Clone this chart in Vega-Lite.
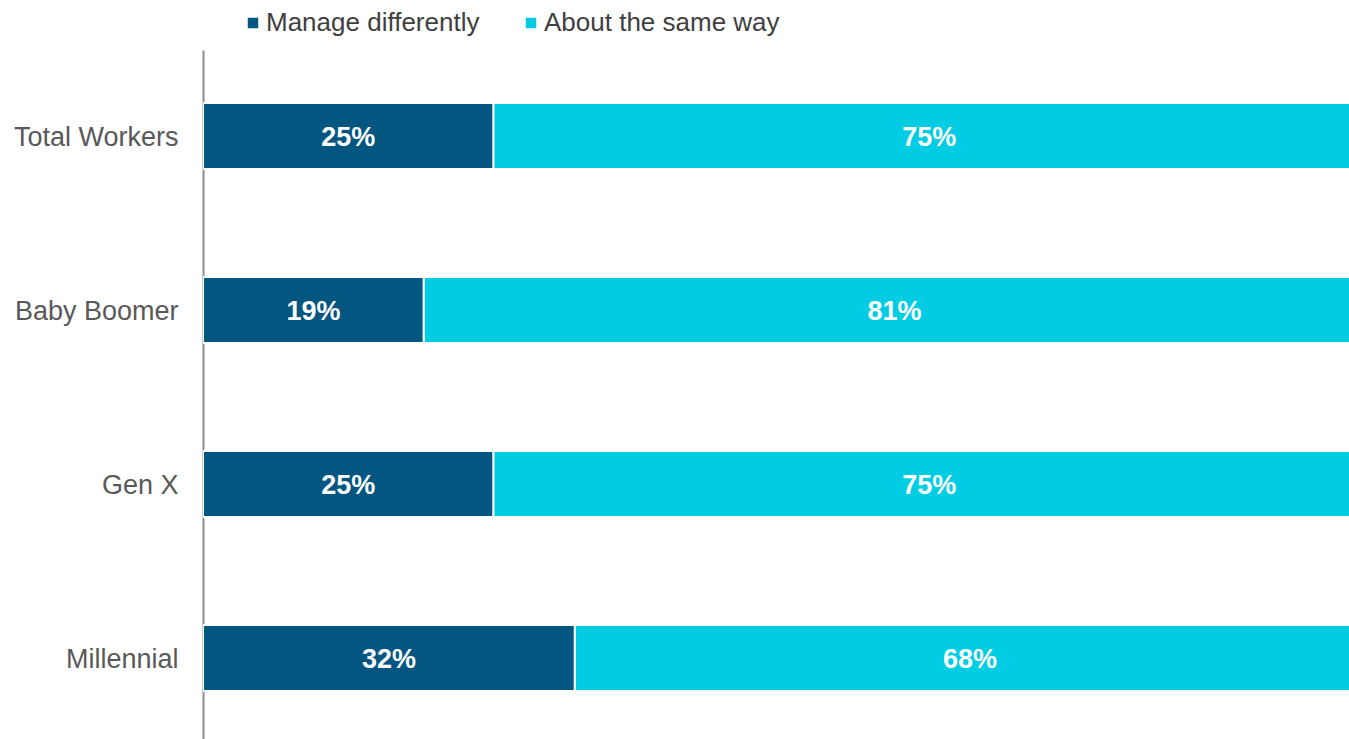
{
  "$schema": "https://vega.github.io/schema/vega-lite/v6.json",
  "autosize": "none",
  "width": 1146,
  "height": 689,
  "padding": {"left": 203, "top": 50, "right": 0, "bottom": 0},
  "background": "white",
  "config": {"view": {"stroke": null}, "font": "Liberation Sans"},
  "data": {
    "values": [
      {"group": "Total Workers", "category": "Manage differently", "value": 25, "label": "25%", "order": 1},
      {"group": "Total Workers", "category": "About the same way", "value": 75, "label": "75%", "order": 2},
      {"group": "Baby Boomer", "category": "Manage differently", "value": 19, "label": "19%", "order": 1},
      {"group": "Baby Boomer", "category": "About the same way", "value": 81, "label": "81%", "order": 2},
      {"group": "Gen X", "category": "Manage differently", "value": 25, "label": "25%", "order": 1},
      {"group": "Gen X", "category": "About the same way", "value": 75, "label": "75%", "order": 2},
      {"group": "Millennial", "category": "Manage differently", "value": 32, "label": "32%", "order": 1},
      {"group": "Millennial", "category": "About the same way", "value": 68, "label": "68%", "order": 2}
    ]
  },
  "transform": [
    {"stack": "value", "groupby": ["group"], "sort": [{"field": "order", "order": "ascending"}], "as": ["v0", "v1"]},
    {"calculate": "(datum.v0 + datum.v1) / 2", "as": "mid"}
  ],
  "encoding": {
    "y": {
      "field": "group",
      "type": "nominal",
      "sort": ["Total Workers", "Baby Boomer", "Gen X", "Millennial"],
      "scale": {"paddingInner": 0.6207, "paddingOuter": 0.29, "align": 0.525},
      "axis": {
        "title": null,
        "domainColor": "#8c8c8c",
        "domainWidth": 2,
        "ticks": false,
        "labelFontSize": 27,
        "labelColor": "#595959",
        "labelPadding": 25,
        "labelOffset": 2,
        "labelLimit": 300,
        "labelFont": "Liberation Sans"
      }
    }
  },
  "layer": [
    {
      "mark": {"type": "bar", "stroke": "white", "strokeWidth": 2, "clip": true},
      "encoding": {
        "x": {"field": "v0", "type": "quantitative", "scale": {"domain": [0, 98.62], "nice": false, "zero": false}, "axis": null},
        "x2": {"field": "v1"},
        "color": {
          "field": "category",
          "type": "nominal",
          "scale": {"domain": ["Manage differently", "About the same way"], "range": ["#02567f", "#00cce3"]},
          "legend": {
            "title": null,
            "orient": "none",
            "direction": "horizontal",
            "legendX": 37,
            "legendY": -40,
            "symbolType": "square",
            "symbolSize": 110,
            "symbolStrokeWidth": 0,
            "labelFontSize": 26,
            "labelColor": "#404040",
            "labelFont": "Liberation Sans",
            "labelLimit": 400,
            "labelOffset": 0,
            "columnPadding": 38
          }
        }
      }
    },
    {
      "mark": {"type": "text", "color": "white", "fontWeight": "bold", "fontSize": 27, "font": "Liberation Sans", "baseline": "middle", "align": "center", "dy": 2},
      "encoding": {
        "x": {"field": "mid", "type": "quantitative"},
        "text": {"field": "label", "type": "nominal"}
      }
    }
  ]
}
